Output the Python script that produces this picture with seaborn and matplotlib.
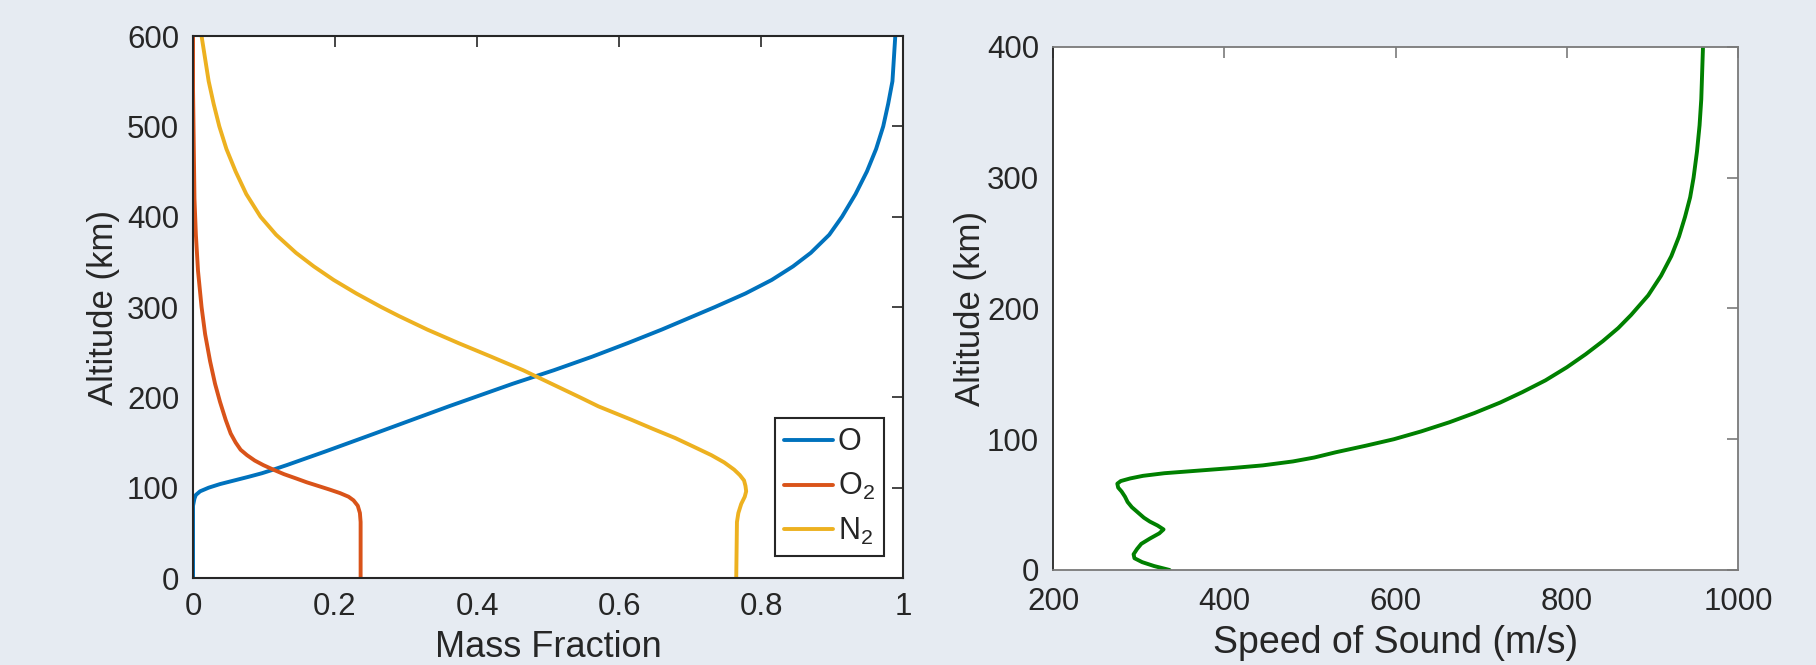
import seaborn as sns
import pandas as pd
import matplotlib.pyplot as plt
import numpy as np

# mass fraction profiles (altitude in km, fraction)
o_alt = [0, 80, 88, 92, 96, 100, 104, 108, 112, 116, 120, 125, 130, 140, 150, 160, 175, 190, 200, 215,
         230, 245, 260, 275, 290, 300, 315, 330, 345, 360, 380, 400, 425, 450, 475, 500, 525, 550, 575, 600]
o_frac = [0.0, 0.0, 0.002, 0.004, 0.010, 0.022, 0.038, 0.058, 0.078, 0.097, 0.113, 0.132, 0.150, 0.186,
          0.221, 0.256, 0.308, 0.360, 0.396, 0.450, 0.508, 0.562, 0.612, 0.660, 0.705, 0.735, 0.778,
          0.815, 0.845, 0.870, 0.896, 0.914, 0.933, 0.949, 0.962, 0.972, 0.979, 0.985, 0.987, 0.989]

o2_alt = [0, 62, 72, 80, 86, 90, 94, 98, 102, 106, 110, 115, 120, 125, 130, 136, 142, 150, 160, 175,
          195, 215, 240, 270, 300, 340, 380, 420, 480, 540, 600]
o2_frac = [0.236, 0.236, 0.235, 0.232, 0.226, 0.219, 0.207, 0.192, 0.176, 0.160, 0.146, 0.128, 0.113,
           0.099, 0.087, 0.076, 0.067, 0.060, 0.053, 0.046, 0.038, 0.031, 0.024, 0.017, 0.012, 0.007,
           0.004, 0.002, 0.001, 0.0, 0.0]

n2_alt = [0, 62, 72, 82, 90, 96, 102, 108, 114, 120, 128, 136, 145, 155, 165, 175, 190, 200, 215, 230,
          245, 260, 275, 290, 300, 315, 330, 345, 360, 380, 400, 425, 450, 475, 500, 525, 550, 575, 600]
n2_frac = [0.765, 0.766, 0.768, 0.772, 0.777, 0.779, 0.778, 0.776, 0.770, 0.762, 0.748, 0.730, 0.706,
           0.679, 0.648, 0.618, 0.571, 0.545, 0.505, 0.465, 0.420, 0.374, 0.330, 0.290, 0.265, 0.230,
           0.198, 0.170, 0.145, 0.117, 0.095, 0.075, 0.060, 0.047, 0.037, 0.029, 0.022, 0.017, 0.012]

# speed of sound profile (altitude in km, m/s)
sos_alt = [0, 3, 6, 9, 12, 16, 20, 24, 28, 31, 34, 37, 40, 44, 48, 52, 56, 60, 63, 66, 68, 70, 72, 74,
           76, 78, 80, 83, 86, 90, 95, 100, 106, 113, 120, 128, 136, 145, 155, 165, 175, 185, 195, 210,
           225, 240, 255, 270, 285, 300, 320, 340, 360, 380, 400]
sos_speed = [336, 318, 304, 295, 294, 298, 303, 313, 324, 329, 322, 313, 306, 299, 292, 287, 284, 280,
             276, 275, 279, 290, 305, 330, 370, 410, 445, 480, 505, 530, 565, 598, 630, 663, 692, 722,
             748, 775, 800, 822, 842, 860, 875, 895, 910, 922, 931, 938, 944, 948, 952, 955, 957, 958, 959]

species = ['O', 'O2', 'N2']
species_labels = ['O', r'$\mathregular{O_2}$', r'$\mathregular{N_2}$']
colors = ['#0072BD', '#D95319', '#EDB120']

bg = '#e6ebf2'
dark = '#262626'
grey = '#7a7a7a'

sns.set_style('white')
plt.rcParams['font.family'] = ['Liberation Sans', 'DejaVu Sans']
plt.rcParams['mathtext.default'] = 'regular'
plt.rcParams['text.color'] = dark
plt.rcParams['axes.labelcolor'] = dark
plt.rcParams['xtick.color'] = dark
plt.rcParams['ytick.color'] = dark

frames = []
for name, alt, frac in zip(species, [o_alt, o2_alt, n2_alt], [o_frac, o2_frac, n2_frac]):
    frames.append(pd.DataFrame({'alt': alt, 'frac': frac, 'species': name}))
mass = pd.concat(frames, ignore_index=True)

sos = pd.DataFrame({'alt': sos_alt, 'speed': sos_speed})

fig = plt.figure(figsize=(18.16, 6.65), dpi=100, facecolor=bg)
ax1 = fig.add_axes([0.1063, 0.1308, 0.391, 0.815])
ax2 = fig.add_axes([0.5799, 0.1429, 0.3772, 0.7865])

sns.lineplot(data=mass, x='frac', y='alt', hue='species', hue_order=species,
             palette=colors, sort=False, estimator=None, linewidth=2.8, ax=ax1)
ax1.set_xlim(0, 1)
ax1.set_ylim(0, 600)
ax1.set_xticks([0, 0.2, 0.4, 0.6, 0.8, 1])
ax1.set_xticklabels(['0', '0.2', '0.4', '0.6', '0.8', '1'])
ax1.set_yticks(range(0, 601, 100))
ax1.set_xlabel('Mass Fraction', fontsize=26, labelpad=6)
ax1.set_ylabel('Altitude (km)', fontsize=25, labelpad=5)

handles, _ = ax1.get_legend_handles_labels()
leg = ax1.legend(handles, species_labels, loc='lower right', bbox_to_anchor=(0.973, 0.04),
                 borderaxespad=0, fontsize=22, frameon=True, fancybox=False,
                 handlelength=1.6, handletextpad=0.15, labelspacing=0.45, borderpad=0.3)
leg.get_frame().set_edgecolor(dark)
leg.get_frame().set_linewidth(1.5)
leg.get_frame().set_alpha(1)

sns.lineplot(data=sos, x='speed', y='alt', sort=False, estimator=None,
             color='#008000', linewidth=2.8, ax=ax2)
ax2.set_xlim(200, 1000)
ax2.set_ylim(0, 400)
ax2.set_xticks([200, 400, 600, 800, 1000])
ax2.set_yticks([0, 100, 200, 300, 400])
ax2.set_xlabel('Speed of Sound (m/s)', fontsize=27, labelpad=6)
ax2.set_ylabel('Altitude (km)', fontsize=25, labelpad=0)

for ax in (ax1, ax2):
    ax.set_facecolor('white')
    ax.tick_params(direction='in', length=8, width=1.2, labelsize=22.5,
                   top=True, right=True, pad=10)
ax2.tick_params(axis='x', pad=12)

for s in ax1.spines.values():
    s.set_color(dark)
    s.set_linewidth(1.5)
for k, s in ax2.spines.items():
    s.set_color(grey if k != 'left' else dark)
    s.set_linewidth(1.3)
ax2.tick_params(color=grey)

fig.savefig('out.png', dpi=100, facecolor=bg)
